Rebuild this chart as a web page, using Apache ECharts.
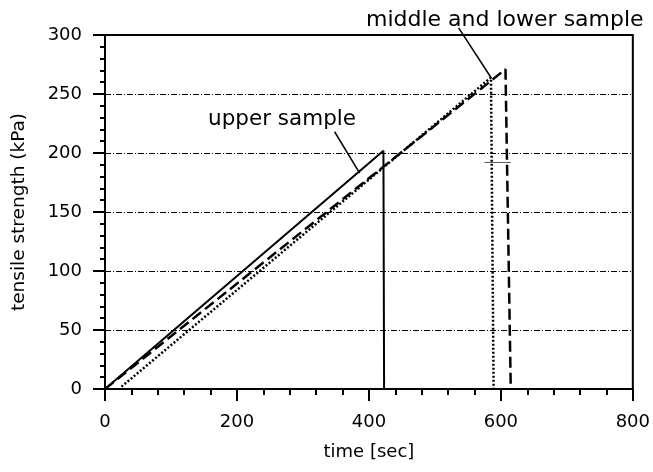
<!DOCTYPE html>
<html>
<head>
<meta charset="utf-8">
<script src="https://cdn.jsdelivr.net/npm/echarts@6/dist/echarts.min.js"></script>
<style>
  html, body { margin: 0; padding: 0; background: #fff; }
  #chart { width: 653px; height: 472px; }
</style>
</head>
<body>
<div id="chart"></div>
<script>
// tick values
const timeTicks = [0, 200, 400, 600, 800];
const strengthTicks = [0, 50, 100, 150, 200, 250, 300];

// upper sample (solid)
const upperTime = [0, 422, 423];
const upperStrength = [0, 202, 0];

// middle / lower samples (dashed and dotted)
const dashedTime = [0, 607, 615];
const dashedStrength = [0, 271, 0];
const dottedTime = [25, 585, 589];
const dottedStrength = [2, 264, 0];

// leader lines and the little stray stroke near the failure points
const upperLeaderTime = [348, 386];
const upperLeaderStrength = [218, 183];
const lowerLeaderTime = [536, 585];
const lowerLeaderStrength = [306, 264];
const strayTime = [575, 615];
const strayStrength = [192, 192];

function pairs(xs, ys) {
    return xs.map(function (x, i) { return [x, ys[i]]; });
}

document.addEventListener('DOMContentLoaded', function () {
    const chart = echarts.init(document.getElementById('chart'));
    const font = 'DejaVu Sans, sans-serif';

    function curve(xs, ys, type, width) {
        return {
            type: 'line',
            data: pairs(xs, ys),
            showSymbol: false,
            symbol: 'none',
            clip: false,
            silent: true,
            lineStyle: { color: '#000', width: width, type: type }
        };
    }

    const option = {
        animation: false,
        backgroundColor: '#fff',
        grid: {
            left: 105, right: 18, top: 35, bottom: 83,
            show: true, borderColor: '#000', borderWidth: 2,
            backgroundColor: 'transparent'
        },
        xAxis: {
            type: 'value',
            min: timeTicks[0],
            max: timeTicks[timeTicks.length - 1],
            interval: timeTicks[1] - timeTicks[0],
            name: 'time [sec]',
            nameLocation: 'middle',
            nameGap: 54,
            nameTextStyle: { color: '#000', fontSize: 18, fontFamily: font },
            axisLine: { lineStyle: { color: '#000', width: 2 } },
            axisTick: { show: true, inside: false, length: 12, lineStyle: { color: '#000', width: 2 } },
            minorTick: { show: true, splitNumber: 5, length: 6, lineStyle: { color: '#000', width: 2 } },
            axisLabel: { color: '#000', fontSize: 18, fontFamily: font, margin: 24 },
            splitLine: { show: false }
        },
        yAxis: {
            type: 'value',
            min: strengthTicks[0],
            max: strengthTicks[strengthTicks.length - 1],
            interval: strengthTicks[1] - strengthTicks[0],
            name: 'tensile strength (kPa)',
            nameLocation: 'middle',
            nameGap: 76,
            nameTextStyle: { color: '#000', fontSize: 18.5, fontFamily: font },
            axisLine: { lineStyle: { color: '#000', width: 2 } },
            axisTick: { show: true, inside: false, length: 12, lineStyle: { color: '#000', width: 2 } },
            minorTick: { show: true, splitNumber: 5, length: 5, lineStyle: { color: '#000', width: 2 } },
            axisLabel: { color: '#000', fontSize: 18, fontFamily: font, margin: 23 },
            splitLine: { show: true, lineStyle: { color: '#000', width: 1, type: [6, 2, 1, 2] } }
        },
        series: [
            curve(upperTime, upperStrength, 'solid', 2),
            curve(dashedTime, dashedStrength, [11, 5], 2.5),
            curve(dottedTime, dottedStrength, [2, 2], 2.5),
            curve(upperLeaderTime, upperLeaderStrength, 'solid', 1.5),
            curve(lowerLeaderTime, lowerLeaderStrength, 'solid', 1.5),
            {
                type: 'line',
                data: pairs(strayTime, strayStrength),
                symbol: 'none',
                silent: true,
                lineStyle: { color: '#555', width: 1 }
            }
        ],
        graphic: [
            {
                type: 'text', left: 208, top: 108,
                style: { text: 'upper sample', fill: '#000', fontSize: 21.5, fontFamily: font }
            },
            {
                type: 'text', left: 366, top: 9,
                style: { text: 'middle and lower sample', fill: '#000', fontSize: 22, fontFamily: font }
            }
        ]
    };

    chart.setOption(option);
});
</script>
</body>
</html>
